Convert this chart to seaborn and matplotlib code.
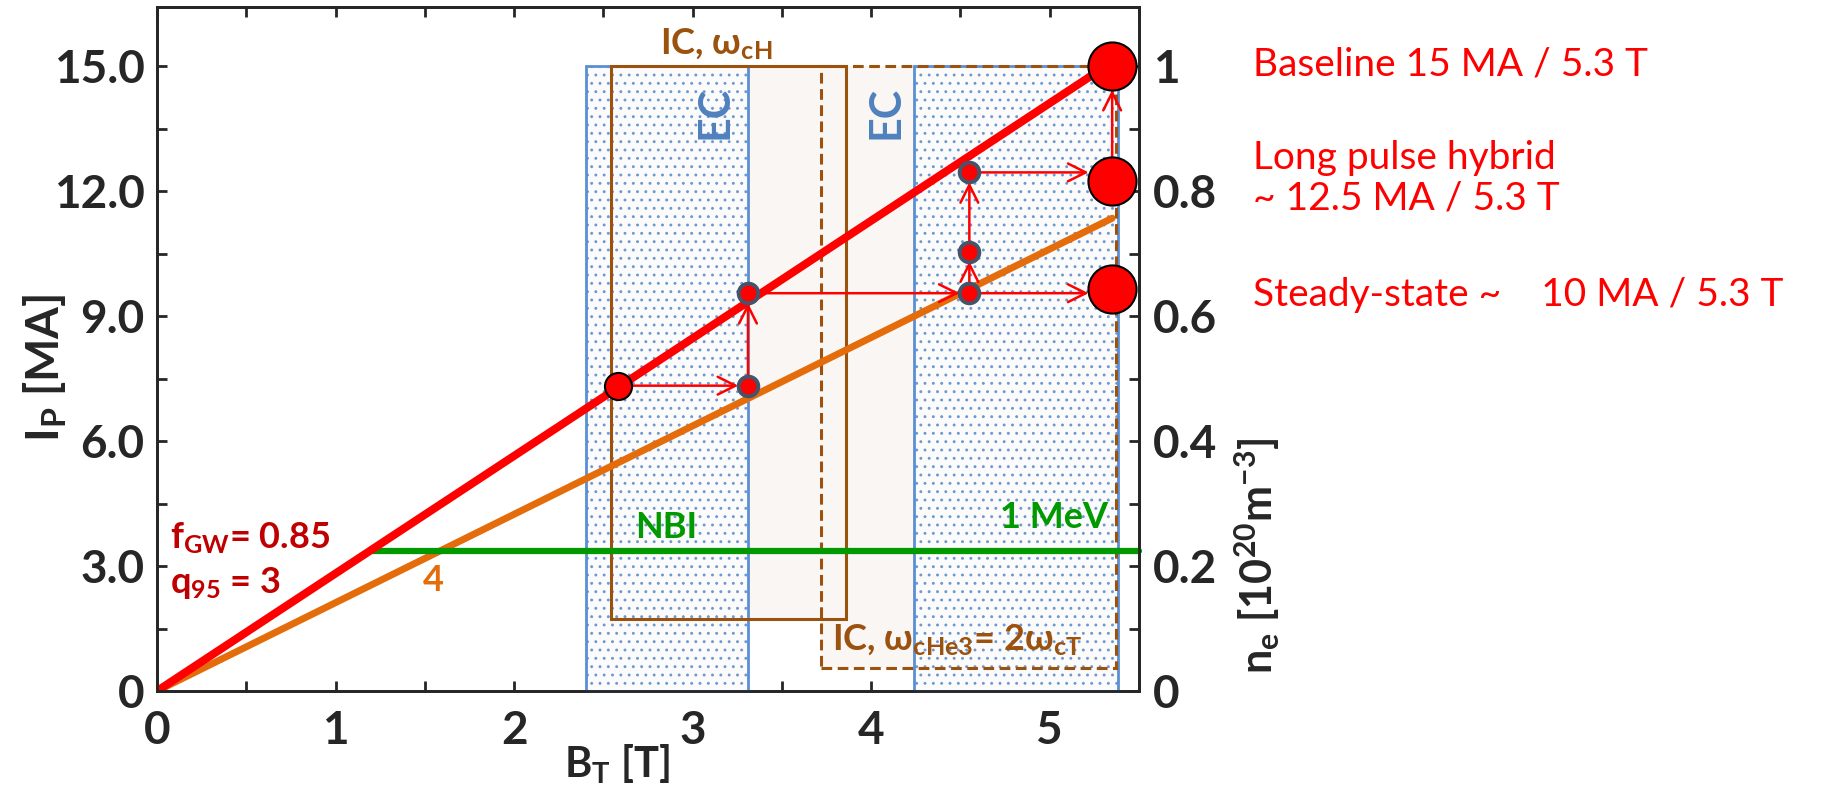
import matplotlib
matplotlib.use('Agg')
import matplotlib.pyplot as plt
from matplotlib.patches import Rectangle
from matplotlib.ticker import MultipleLocator, FixedLocator, FixedFormatter
import seaborn as sns

# values
b_line = [0.0, 5.35]
ip_q95_3 = [0.0, 15.1]
ip_q95_4 = [0.0, 11.35]
nbi_b = [1.2, 5.5]
nbi_ip = [3.35, 3.35]

ec_bands = [(2.40, 3.31), (4.24, 5.38)]
ec_top = 15.0
ic_h_b = (2.54, 3.86)
ic_h_ip = (1.73, 15.0)
ic_he3_b = (3.72, 5.37)
ic_he3_ip = (0.55, 15.0)

scen_b = [5.35, 5.35, 5.35]
scen_ip = [15.0, 12.25, 9.65]
scen_text = ['Baseline 15 MA / 5.3 T',
             'Long pulse hybrid\n~ 12.5 MA / 5.3 T',
             'Steady-state ~    10 MA / 5.3 T']

start_b = [2.58]
start_ip = [7.33]
step_b = [3.31, 3.31, 4.55, 4.55, 4.55]
step_ip = [7.33, 9.55, 9.55, 10.55, 12.45]

# (from, to) of the red path arrows
path = [((2.58, 7.33), (3.31, 7.33)),
        ((3.31, 7.33), (3.31, 9.55)),
        ((3.31, 9.55), (4.55, 9.55)),
        ((4.55, 9.55), (5.35, 9.55)),
        ((4.55, 9.55), (4.55, 10.55)),
        ((4.55, 10.55), (4.55, 12.45)),
        ((4.55, 12.45), (5.35, 12.45)),
        ((5.35, 12.25), (5.35, 15.0))]

sns.set_theme(style='ticks')
plt.rcParams['font.family'] = ['Lato', 'DejaVu Sans']
plt.rcParams['mathtext.fontset'] = 'custom'
plt.rcParams['mathtext.default'] = 'regular'
plt.rcParams['mathtext.fallback'] = 'stixsans'
plt.rcParams['hatch.linewidth'] = 0.9

RED = '#ff0000'
ORANGE = '#e46c0a'
GREEN = '#009a00'
BROWN = '#9c520f'
BLUE = '#5a8fd4'
DOTS = '#6d98d0'

fig = plt.figure(figsize=(18.37, 7.89), dpi=100)
ax = fig.add_axes([0.0855, 0.1242, 0.5345, 0.8669])

# heating windows
for (x0, x1), (y0, y1) in [(ic_h_b, ic_h_ip), (ic_he3_b, ic_he3_ip)]:
    ax.add_patch(Rectangle((x0, y0), x1 - x0, y1 - y0, facecolor='#f9f6f3', edgecolor='none', zorder=1))
for x0, x1 in ec_bands:
    ax.add_patch(Rectangle((x0, 0), x1 - x0, ec_top, facecolor='#fbfbfc', edgecolor=DOTS,
                           hatch='..', lw=0, zorder=1.5))
    ax.add_patch(Rectangle((x0, 0), x1 - x0, ec_top, facecolor='none', edgecolor=BLUE,
                           lw=2, zorder=2, clip_on=False))
ax.add_patch(Rectangle((ic_h_b[0], ic_h_ip[0]), ic_h_b[1] - ic_h_b[0], ic_h_ip[1] - ic_h_ip[0],
                       facecolor='none', edgecolor=BROWN, lw=2.2, zorder=2.1))
ax.add_patch(Rectangle((ic_he3_b[0], ic_he3_ip[0]), ic_he3_b[1] - ic_he3_b[0], ic_he3_ip[1] - ic_he3_ip[0],
                       facecolor='none', edgecolor=BROWN, lw=2.2, ls=(0, (3.5, 1.8)), zorder=2.1))

# operating lines
sns.lineplot(x=b_line, y=ip_q95_4, color=ORANGE, lw=5, ax=ax, zorder=3)
sns.lineplot(x=b_line, y=ip_q95_3, color=RED, lw=5.8, ax=ax, zorder=3.2)
sns.lineplot(x=nbi_b, y=nbi_ip, color=GREEN, lw=4.5, ax=ax, zorder=3.1, clip_on=False)

for (xa, ya), (xb, yb) in path:
    shrink_a = 17 if xa == 5.35 else 6
    shrink_b = 17 if xb == 5.35 else 7
    ax.annotate('', xy=(xb, yb), xytext=(xa, ya),
                arrowprops=dict(arrowstyle='->', color=RED, lw=1.8, mutation_scale=32,
                                shrinkA=shrink_a, shrinkB=shrink_b), zorder=4)

sns.scatterplot(x=step_b, y=step_ip, s=200, color=RED, edgecolor='#44546a', linewidth=2.8,
                ax=ax, zorder=5, legend=False)
sns.scatterplot(x=start_b, y=start_ip, s=380, color=RED, edgecolor='black', linewidth=1.5,
                ax=ax, zorder=5, legend=False)
sns.scatterplot(x=scen_b, y=scen_ip, s=1200, color=RED, edgecolor='black', linewidth=1.5,
                ax=ax, zorder=6, legend=False, clip_on=False)

# labels inside the plot
bold = dict(fontweight='bold')
ax.text(0.07, 3.68, r'f$_{GW}$= 0.85', color='#c00000', fontsize=26, va='center', **bold)
ax.text(0.07, 2.6, r'q$_{95}$ = 3', color='#c00000', fontsize=26, va='center', **bold)
ax.text(1.55, 2.65, '4', color=ORANGE, fontsize=26, ha='center', va='center', **bold)
ax.text(2.85, 3.92, 'NBI', color=GREEN, fontsize=26, ha='center', va='center', **bold)
ax.text(5.33, 4.17, '1 MeV', color=GREEN, fontsize=26, ha='right', va='center', **bold)
ax.text(3.13, 15.28, r'IC, ω$_{cH}$', color=BROWN, fontsize=26, ha='center', va='baseline',
        clip_on=False, **bold)
ax.text(3.78, 0.98, r'IC, ω$_{cHe3}$= 2ω$_{cT}$', color=BROWN, fontsize=26, ha='left',
        va='baseline', **bold)
for xt in [3.12, 4.08]:
    ax.text(xt, 13.9, 'EC', color='#4f81bd', fontsize=31, rotation=90, ha='center', va='center', **bold)

# axes
ax.set_xlim(0, 5.5)
ax.set_ylim(0, 16.42)
ax.xaxis.set_minor_locator(MultipleLocator(0.5))
ax.yaxis.set_minor_locator(MultipleLocator(1.5))
ax.set_yticks([0, 3, 6, 9, 12, 15], ['0', '3.0', '6.0', '9.0', '12.0', '15.0'])
ax.set_xticks([0, 1, 2, 3, 4, 5], ['0', '1', '2', '3', '4', '5'])
ax.tick_params(which='both', direction='in', length=7, width=2, top=True, right=False)
ax.tick_params(axis='y', labelsize=33, pad=9)
ax.tick_params(axis='x', labelsize=33, pad=14)
for lab in ax.get_xticklabels() + ax.get_yticklabels():
    lab.set_fontweight('bold')
for sp in ax.spines.values():
    sp.set_linewidth(2)
    sp.set_zorder(7)

ax.set_xlabel(r'B$_T$ [T]', fontsize=30, fontweight='bold')
ax.xaxis.set_label_coords(0.469, -0.107)
ax.xaxis.label.set_va('center')
ax.set_ylabel(r'I$_P$ [MA]', fontsize=33, fontweight='bold')
ax.yaxis.set_label_coords(-0.114, 0.473)
ax.yaxis.label.set_va('center')

ax2 = ax.twinx()
ax2.set_ylim(0, 16.42 / 15)
ax2.yaxis.set_major_locator(FixedLocator([0, 0.2, 0.4, 0.6, 0.8, 1.0]))
ax2.yaxis.set_major_formatter(FixedFormatter(['0', '0.2', '0.4', '0.6', '0.8', '1']))
ax2.yaxis.set_minor_locator(MultipleLocator(0.1))
ax2.tick_params(which='both', direction='in', length=7, width=2, labelsize=33, pad=10)
for lab in ax2.get_yticklabels():
    lab.set_fontweight('bold')
for sp in ax2.spines.values():
    sp.set_linewidth(2)
ax2.set_ylabel(r'n$_e$ [10$^{20}$m$^{-3}$]', fontsize=31, fontweight='bold')
ax2.yaxis.set_label_coords(1.121, 0.198)
ax2.yaxis.label.set_va('center')
ax2.set_zorder(ax.get_zorder() - 1)
ax.patch.set_visible(False)

# scenario names to the right
fig.text(0.682, 0.918, scen_text[0], color=RED, fontsize=28, va='center')
fig.text(0.682, 0.774, scen_text[1], color=RED, fontsize=28, va='center', linespacing=1.15)
fig.text(0.682, 0.626, scen_text[2], color=RED, fontsize=28, va='center')

fig.savefig('out.png', dpi=100)
